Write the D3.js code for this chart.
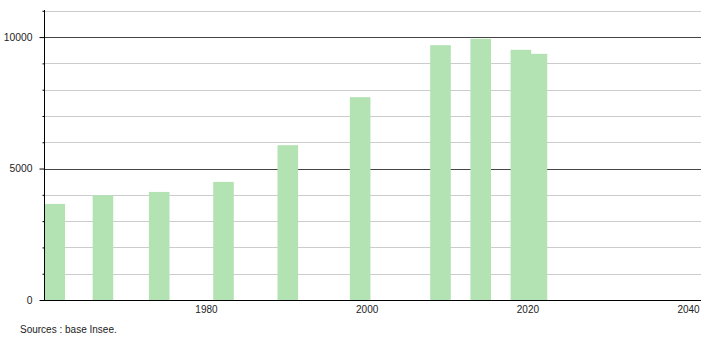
<!DOCTYPE html>
<html>
<head>
<meta charset="utf-8">
<script src="https://cdn.jsdelivr.net/npm/d3@7"></script>
<style>
  html, body { margin: 0; padding: 0; background: #fff; }
  svg { display: block; font-family: "Liberation Sans", Arial, sans-serif; }
</style>
</head>
<body>
<svg id="chart" width="710" height="340"></svg>
<script>
// ---- data ----
const years = [1961, 1967, 1974, 1982, 1990, 1999, 2009, 2014, 2019, 2021];
const population = [3654, 3985, 4111, 4492, 5888, 7715, 9694, 9935, 9517, 9364];
const xTickLabels = [1980, 2000, 2020, 2040];
const yMajorTicks = [0, 5000, 10000];
const yMinorTicks = [1000, 2000, 3000, 4000, 6000, 7000, 8000, 9000, 11000];
const sourceText = "Sources : base Insee.";

(function () {
// ---- layout ----
const svg = d3.select("#chart");
const mLeft = 44, mRight = 701, mTop = 10, mBottom = 300;

const x = d3.scaleLinear().domain([1959.85, 2041.6]).range([mLeft, mRight]);
const y = d3.scaleLinear().domain([0, 11000]).range([mBottom, 10.8]);

// gridlines
svg.append("g").selectAll("line").data(yMinorTicks).join("line")
  .attr("x1", mLeft).attr("x2", mRight)
  .attr("y1", d => Math.round(y(d)) + 0.5).attr("y2", d => Math.round(y(d)) + 0.5)
  .attr("stroke", "#cccccc").attr("stroke-width", 1);
svg.append("g").selectAll("line").data(yMajorTicks.filter(d => d > 0)).join("line")
  .attr("x1", mLeft).attr("x2", mRight)
  .attr("y1", d => Math.round(y(d)) + 0.5).attr("y2", d => Math.round(y(d)) + 0.5)
  .attr("stroke", "#444444").attr("stroke-width", 1);

// bars
const barW = 20.6;
const data = years.map((yr, i) => ({ year: yr, value: population[i] }));
svg.append("g").selectAll("rect").data(data).join("rect")
  .attr("x", d => x(d.year) + 1.5 - barW / 2)
  .attr("width", barW)
  .attr("y", d => y(d.value))
  .attr("height", d => y(0) - y(d.value))
  .attr("fill", "#b3e3b3");

// y axis
const yAxisMajor = d3.axisLeft(y).tickValues(yMajorTicks).tickSize(5).tickPadding(7).tickFormat(d3.format("d"));
const yAxisMinor = d3.axisLeft(y).tickValues(yMinorTicks).tickSize(2).tickFormat("");
const gyMinor = svg.append("g").attr("transform", `translate(${mLeft + 0.5},0)`).call(yAxisMinor);
gyMinor.select(".domain").remove();
gyMinor.selectAll("line").attr("stroke", "#000");
const gy = svg.append("g").attr("transform", `translate(${mLeft + 0.5},0)`).call(yAxisMajor);
gy.select(".domain").attr("d", `M0,${mTop}V${mBottom}`).attr("stroke", "#000");
gy.selectAll("line").attr("stroke", "#000");
gy.selectAll("text").attr("font-size", 10.3).attr("fill", "#222")
  .attr("font-family", "'Liberation Sans', Arial, sans-serif");

// x axis
const xAxis = d3.axisBottom(x).tickValues(xTickLabels).tickSize(0).tickPadding(5).tickFormat(d3.format("d"));
const gx = svg.append("g").attr("transform", `translate(0,${mBottom + 0.5})`).call(xAxis);
gx.select(".domain").attr("d", `M${mLeft},0H${mRight}`).attr("stroke", "#000");
gx.selectAll("text").attr("font-size", 10).attr("fill", "#222")
  .attr("font-family", "'Liberation Sans', Arial, sans-serif")
  .attr("text-anchor", d => d === 2040 ? "end" : "middle")
  .attr("x", d => d === 2040 ? 11 : 0);

// source
svg.append("text").attr("x", 20).attr("y", 333)
  .attr("font-size", 10).attr("fill", "#222").text(sourceText);
})();
</script>
</body>
</html>
